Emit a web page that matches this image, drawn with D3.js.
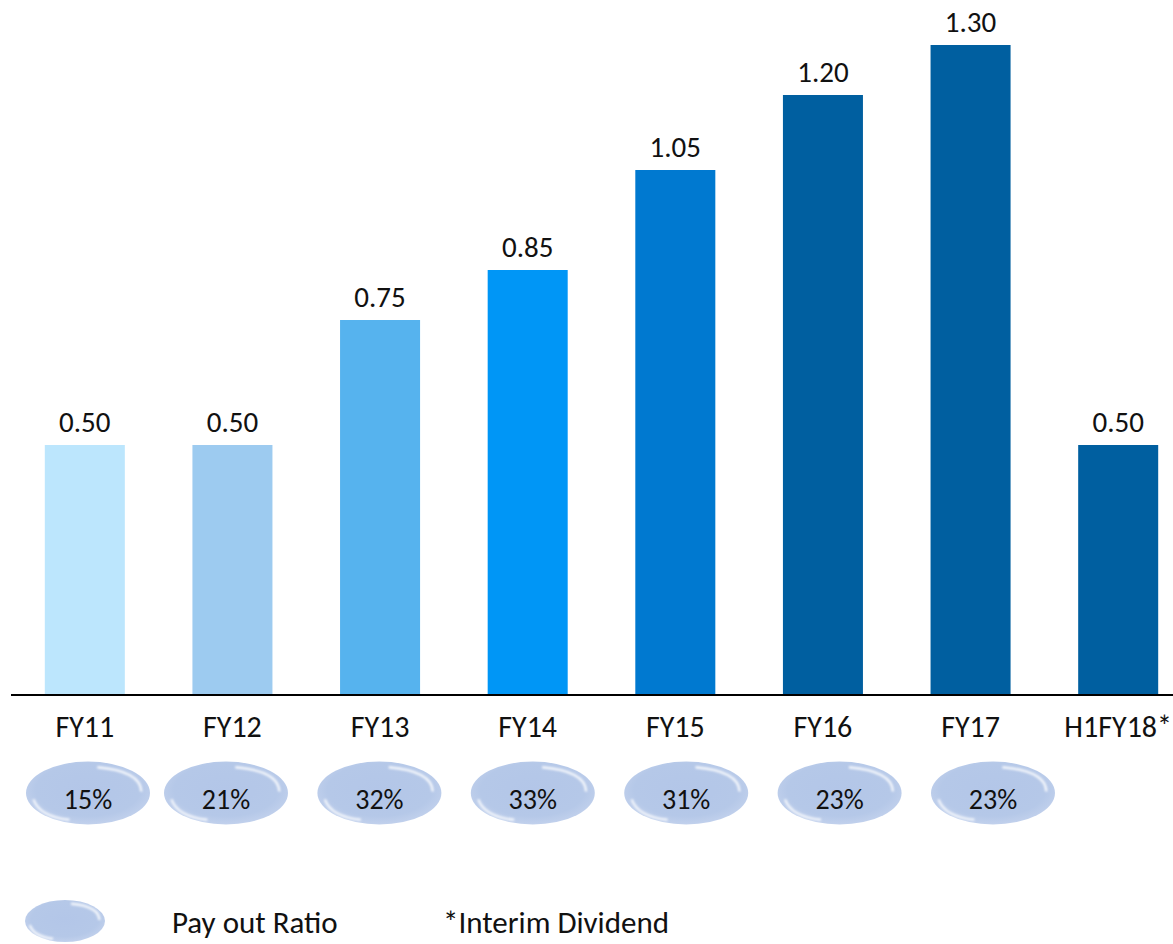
<!DOCTYPE html>
<html>
<head>
<meta charset="utf-8">
<script src="https://cdn.jsdelivr.net/npm/d3@7"></script>
<style>
  html, body { margin: 0; padding: 0; background: #fff; }
  svg text { font-family: Carlito, Lato, "Open Sans", sans-serif; fill: #111; }
</style>
</head>
<body>
<svg id="chart" width="1173" height="944"></svg>
<script>
// Dividend per share by fiscal year
const categories = ["FY11", "FY12", "FY13", "FY14", "FY15", "FY16", "FY17", "H1FY18*"];
const dividends = [0.50, 0.50, 0.75, 0.85, 1.05, 1.20, 1.30, 0.50];
const barColors = ["#bce6fd", "#9dcbf0", "#56b3ee", "#0096f6", "#0079d0", "#005fa0", "#005fa0", "#005fa0"];

// Pay-out ratio for full years only
const payoutYears = ["FY11", "FY12", "FY13", "FY14", "FY15", "FY16", "FY17"];
const payoutRatios = ["15%", "21%", "32%", "33%", "31%", "23%", "23%"];

const legendLabels = ["Pay out Ratio", "*Interim Dividend"];

const svg = d3.select("#chart");
const W = 1173, H = 944;
const baseY = 695;

const x = d3.scaleBand()
  .domain(categories)
  .range([11, 1192])
  .paddingInner(0.458)
  .paddingOuter(0.229);

const y = d3.scaleLinear().domain([0, 1.39]).range([baseY, 0]);

// Glossy ellipse fill
const defs = svg.append("defs");
const grad = defs.append("radialGradient")
  .attr("id", "pill").attr("cx", "50%").attr("cy", "45%").attr("r", "60%");
grad.append("stop").attr("offset", "0%").attr("stop-color", "#b3c6e8");
grad.append("stop").attr("offset", "70%").attr("stop-color", "#b5c8e8");
grad.append("stop").attr("offset", "100%").attr("stop-color", "#c6d4ee");
const blur = defs.append("filter").attr("id", "soft").attr("x", "-50%").attr("y", "-50%").attr("width", "200%").attr("height", "200%");
blur.append("feGaussianBlur").attr("stdDeviation", 1.2);

// Bars
svg.append("g").selectAll("rect")
  .data(dividends)
  .join("rect")
  .attr("x", (d, i) => x(categories[i]))
  .attr("y", d => y(d))
  .attr("width", x.bandwidth())
  .attr("height", d => baseY - y(d))
  .attr("fill", (d, i) => barColors[i]);

// Value labels
svg.append("g").selectAll("text")
  .data(dividends)
  .join("text")
  .attr("x", (d, i) => x(categories[i]) + x.bandwidth() / 2)
  .attr("y", d => y(d) - 13)
  .attr("text-anchor", "middle")
  .attr("font-size", 29)
  .text(d => d.toFixed(2));

// Baseline
svg.append("line")
  .attr("x1", 11).attr("x2", W)
  .attr("y1", baseY).attr("y2", baseY)
  .attr("stroke", "#000").attr("stroke-width", 2);

// Category labels
svg.append("g").selectAll("text")
  .data(categories)
  .join("text")
  .attr("x", d => x(d) + x.bandwidth() / 2)
  .attr("y", 737)
  .attr("text-anchor", "middle")
  .attr("font-size", 30)
  .text(d => d);

// Draws a glossy pill at (cx, cy)
function pill(g, cx, cy, rx, ry) {
  g.append("ellipse").attr("cx", cx).attr("cy", cy).attr("rx", rx).attr("ry", ry)
    .attr("fill", "url(#pill)");
  // upper-right highlight
  g.append("path")
    .attr("d", `M${cx + rx * 0.15},${cy - ry * 0.82} Q${cx + rx * 0.85},${cy - ry * 0.7} ${cx + rx * 0.86},${cy - ry * 0.05}`)
    .attr("fill", "none").attr("stroke", "#fff").attr("stroke-opacity", 0.85)
    .attr("stroke-width", 2.5).attr("filter", "url(#soft)");
  // lower-left highlight
  g.append("path")
    .attr("d", `M${cx - rx * 0.88},${cy + ry * 0.2} Q${cx - rx * 0.78},${cy + ry * 0.75} ${cx - rx * 0.3},${cy + ry * 0.85}`)
    .attr("fill", "none").attr("stroke", "#fff").attr("stroke-opacity", 0.8)
    .attr("stroke-width", 2.5).attr("filter", "url(#soft)");
}

// Pay-out ratio pills (row is laid out on its own, slightly tighter at the start)
const px = d3.scaleLinear().domain([0, 1, payoutYears.length - 1]).range([88, 226, 993]);
const pillG = svg.append("g");
payoutYears.forEach((yr, i) => {
  const g = pillG.append("g");
  pill(g, px(i), 793, 62, 31.5);
  g.append("text")
    .attr("x", px(i)).attr("y", 809)
    .attr("text-anchor", "middle")
    .attr("font-size", 28)
    .attr("fill", "#222")
    .text(payoutRatios[i]);
});

// Legend
const leg = svg.append("g");
pill(leg, 65, 921, 40, 21);
leg.append("text").attr("x", 172).attr("y", 933).attr("font-size", 31).text(legendLabels[0]);
leg.append("text").attr("x", 443).attr("y", 933).attr("font-size", 31).text(legendLabels[1]);
</script>
</body>
</html>
